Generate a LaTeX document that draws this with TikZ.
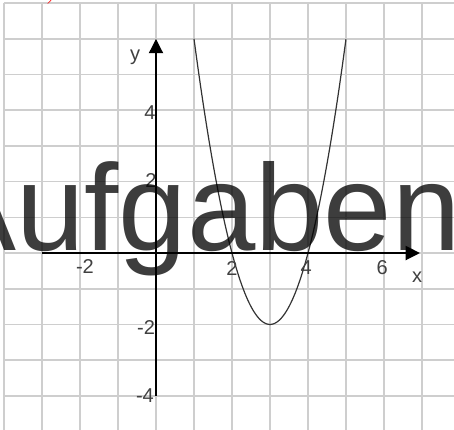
\documentclass[tikz,border=0pt]{standalone}
\usepackage{fontspec}
\newfontfamily\labelfont{Liberation Sans}
\usetikzlibrary{arrows.meta}
\definecolor{gridgray}{RGB}{206,206,206}

\begin{document}
\begin{tikzpicture}[x=1cm,y=0.9395cm,
	tick/.style={font=\labelfont\fontsize{15}{15}\selectfont,text=black!75,inner sep=0pt},
	axis/.style={line width=2.2pt,-{Triangle[length=3.8mm,width=3.6mm]}},
	curve/.style={black!80,line width=0.9pt},
	watermark/.style={font=\labelfont\fontsize{92}{92}\selectfont,text=black,text opacity=0.76,inner sep=0pt}]
	\useasboundingbox (-4.105,-4.93) rectangle (7.842,7.087);
	\clip (-4.105,-4.93) rectangle (7.842,7.087);
	% grid
	\foreach \i in {-4,...,7}
		\draw[gridgray,line width=1.2pt] (\i,-5) -- (\i,7);
	\foreach \j in {-4,...,7}
		\draw[gridgray,line width=1.2pt] (-4,\j) -- (8,\j);
	\node[text=red,font=\fontsize{20}{20}\selectfont\itshape,inner sep=0pt,anchor=base west] (part) at (-2.87,7.17) {)};
	% parabola
	\draw[curve] plot[domain=1:5,samples=120,smooth] (\x,{2*(\x-3)^2-2});
	% axes
	\coordinate (xstart) at (-3,0);
	\coordinate (xend) at (6.95,0);
	\coordinate (ystart) at (0,-4);
	\coordinate (yend) at (0,6);
	\draw[axis] (xstart) -- (xend);
	\draw[axis] (ystart) -- (yend);
	\node[tick] (ylab) at (-0.55,5.49) {y};
	\node[tick] (xlab) at (6.87,-0.67) {x};
	\node[tick] (y4) at (-0.16,3.92) {4};
	\node[tick] (y2) at (-0.13,2.02) {2};
	\node[tick] (ym2) at (-0.26,-2.1) {-2};
	\node[tick] (ym4) at (-0.29,-4.0) {-4};
	\node[tick] (xm2) at (-1.87,-0.39) {-2};
	\node[tick] (x2) at (2.0,-0.42) {2};
	\node[tick] (x4) at (3.95,-0.41) {4};
	\node[tick] (x6) at (5.95,-0.42) {6};
	\node[watermark,anchor=base east] (aufgaben) at (8.02,0.08) {Aufgaben};
\end{tikzpicture}
\end{document}
